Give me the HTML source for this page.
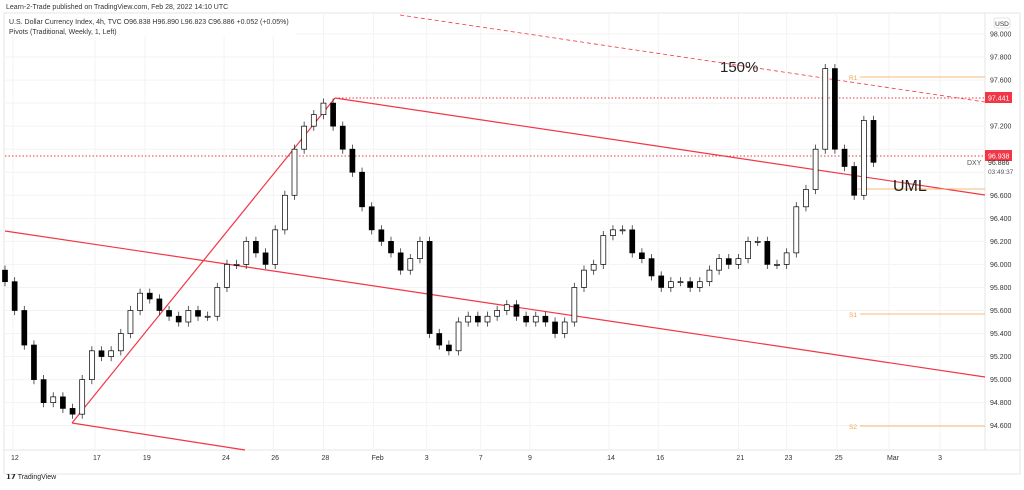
<!DOCTYPE html>
<html><head><meta charset="utf-8"><style>
body{margin:0;background:#fff;font-family:"Liberation Sans",sans-serif;}
svg text{font-family:"Liberation Sans",sans-serif;}
</style></head><body>
<svg id="c" width="1024" height="485" xmlns="http://www.w3.org/2000/svg">
<rect x="0" y="0" width="1024" height="485" fill="#fff"/>
<text x="6" y="9" font-size="7" fill="#333">Learn-2-Trade published on TradingView.com, Feb 28, 2022 14:10 UTC</text>
<rect x="4" y="13" width="1016" height="461" fill="none" stroke="#e6e6e6"/>
<line x1="985" y1="13" x2="985" y2="450" stroke="#e6e6e6"/>
<line x1="4" y1="450" x2="1020" y2="450" stroke="#e6e6e6"/>
<g id="grid"></g><g id="yax"></g><g id="xax"></g><g id="lines"></g><g id="candles"></g>
<rect x="6" y="15" width="290" height="22" fill="#fff" opacity="0.85"/>
<text x="9" y="24" font-size="7" fill="#333">U.S. Dollar Currency Index, 4h, TVC  O96.838  H96.890  L96.823  C96.886  +0.052 (+0.05%)</text>
<text x="9" y="34" font-size="7" fill="#333">Pivots (Traditional, Weekly, 1, Left)</text>
<rect x="994" y="18" width="16" height="10" rx="2" fill="#fff" stroke="#ccc" stroke-width="0.6"/>
<text x="1002" y="26" font-size="6.5" text-anchor="middle" fill="#333">USD</text>
<text x="720" y="72" font-size="15" fill="#222">150%</text>
<text x="893" y="191" font-size="16" fill="#222">UML</text>
<text x="849" y="80" font-size="6.5" fill="#f5a04a">R1</text>
<text x="849" y="317" font-size="6.5" fill="#f5a04a">S1</text>
<text x="849" y="429" font-size="6.5" fill="#f5a04a">S2</text>
<rect x="985" y="92" width="27" height="11" fill="#f23645"/>
<text x="988" y="100.5" font-size="7" fill="#fff">97.441</text>
<rect x="985" y="150" width="27" height="11" fill="#f23645"/>
<text x="988" y="158.5" font-size="7" fill="#fff">96.938</text>
<text x="967" y="165" font-size="7" fill="#555">DXY</text>
<text x="988" y="165" font-size="7" fill="#333">96.886</text>
<text x="988" y="174" font-size="6.5" fill="#555">03:49:37</text>
<text x="6" y="479" font-size="7" font-weight="bold" fill="#222">𝟭𝟳 <tspan font-weight="normal">TradingView</tspan></text>
</svg>
<script>
const yTicks=[98.0,97.8,97.6,97.4,97.2,97.0,96.8,96.6,96.4,96.2,96.0,95.8,95.6,95.4,95.2,95.0,94.8,94.6];
const yLabels=["98.000","97.800","97.600","","97.200","","","96.600","96.400","96.200","96.000","95.800","95.600","95.400","95.200","95.000","94.800","94.600"];
const xLabels=["12","17","19","24","26","28","Feb","3","7","9","14","16","21","23","25","Mar","3"];
const xLabelBars=[0.83,9.33,14.5,22.7,27.8,33,38.2,43.7,49.3,54.4,62.6,67.7,76,81,86.2,91.6,96.9];
const closes=[95.85,95.6,95.3,95.0,94.8,94.85,94.75,94.7,95.0,95.25,95.2,95.25,95.4,95.6,95.75,95.7,95.6,95.55,95.5,95.6,95.55,95.55,95.8,96.0,96.0,96.2,96.1,96.0,96.3,96.6,97.0,97.2,97.3,97.4,97.2,97.0,96.8,96.5,96.3,96.2,96.1,95.95,96.05,96.2,95.4,95.3,95.25,95.5,95.55,95.5,95.55,95.6,95.65,95.55,95.5,95.55,95.5,95.4,95.5,95.8,95.95,96.0,96.25,96.3,96.3,96.1,96.05,95.9,95.8,95.85,95.85,95.8,95.85,95.95,96.05,96.0,96.05,96.2,96.2,96.0,96.0,96.1,96.5,96.65,97.0,97.7,97.0,96.85,96.6,97.25,96.886];
const NS="http://www.w3.org/2000/svg";
const Y=p=>34+(98-p)*115.2;
const X=i=>5+i*9.65;
function mk(t,a,par){const e=document.createElementNS(NS,t);for(const k in a)e.setAttribute(k,a[k]);document.getElementById(par).appendChild(e);return e;}
yTicks.forEach((p,i)=>{
 const g=mk('line',{x1:4,x2:985,y1:Y(p),y2:Y(p),stroke:'#f3f3f3'},'grid');
 
 
 if(yLabels[i]){const t=mk('text',{x:990,y:Y(p)+2.5,'font-size':7,fill:'#333'},'yax');t.textContent=yLabels[i];
 
 }
});
xLabels.forEach((l,i)=>{
 const x=X(xLabelBars[i]);
 const g=mk('line',{x1:x,x2:x,y1:13,y2:450,stroke:'#f3f3f3'},'grid');
 
 
 const t=mk('text',{x:x-2,y:460,'font-size':7,fill:'#333'},'xax');t.textContent=l;
 
 
});
const L=[[72,423,335,98,'#f23645','',1.2,'pitchfork-handle'],[335,98,985,195,'#f23645','',1.2,'upper-median-line'],[5,231,985,377,'#f23645','',1.2,'lower-median-line'],[72,423,245,450,'#f23645','',1.2,'lower-parallel-line'],[400,15,985,102,'#f23645','4,3',0.8,'fib-150-line'],[335,98,985,98,'#f23645','1.5,2',1,'level-97441'],[5,156,985,156,'#f23645','1.5,2',1,'level-96938'],[860,77,985,77,'#f5a04a','',0.8,'r1-line'],[855,189,985,189,'#f5a04a','',0.8,'pp-line'],[860,314,985,314,'#f5a04a','',0.8,'s1-line'],[860,426,985,426,'#f5a04a','',0.8,'s2-line']];
L.forEach(l=>{const e=mk('line',{x1:l[0],y1:l[1],x2:l[2],y2:l[3],stroke:l[4],'stroke-width':l[6],'stroke-dasharray':l[5]},'lines');
 
 });
closes.forEach((c,i)=>{
 const o=i?closes[i-1]:c+0.1;
 const hi=Math.max(o,c)+0.04, lo=Math.min(o,c)-0.04;
 const x=X(i);const up=c>=o;
 const w=mk('line',{x1:x,x2:x,y1:Y(hi),y2:Y(lo),stroke:'#333','stroke-width':0.8},'candles');
 
 
 const top=Y(Math.max(o,c)),h=Math.max(1,Y(Math.min(o,c))-top);
 const b=mk('rect',{x:x-2.5,y:top,width:5,height:h,fill:up?'#fff':'#000',stroke:'#000','stroke-width':0.7},'candles');
 
 
});
</script>
</body></html>
